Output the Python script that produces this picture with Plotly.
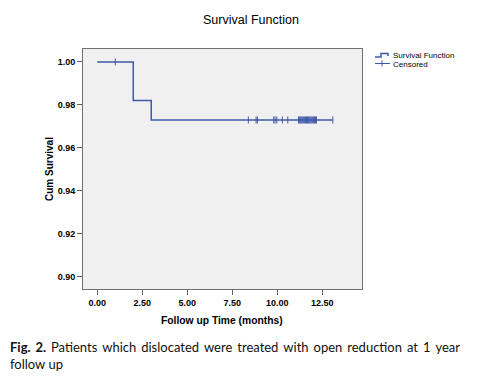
import plotly.graph_objects as go

# Data
step_times = [0.0, 2.0, 3.0, 13.08]
step_surv = [1.000, 0.982, 0.973, 0.973]

cens_times_a = [1.0]
cens_surv_a = [1.000]
cens_times_b = [8.39, 8.82, 8.89, 9.80, 9.87, 9.97, 10.28, 10.58,
                11.17, 11.22, 11.27, 11.32, 11.37, 11.42, 11.47, 11.52,
                11.57, 11.62, 11.67, 11.72, 11.77, 11.82, 11.87, 11.92,
                11.97, 12.02, 12.07, 12.12, 12.17, 13.08]
cens_surv_b = [0.973] * len(cens_times_b)

x_ticks = [0.0, 2.5, 5.0, 7.5, 10.0, 12.5]
y_ticks = [0.90, 0.92, 0.94, 0.96, 0.98, 1.00]

BLUE = "#3f58a8"
FONT = "Liberation Sans"

fig = go.Figure()
fig.add_trace(go.Scatter(x=step_times, y=step_surv, mode="lines",
                         line=dict(shape="hv", color=BLUE, width=1.5),
                         showlegend=False, hoverinfo="skip"))
fig.add_trace(go.Scatter(x=cens_times_a + cens_times_b, y=cens_surv_a + cens_surv_b,
                         mode="markers",
                         marker=dict(symbol="line-ns", size=5,
                                     line=dict(color=BLUE, width=1)),
                         showlegend=False, hoverinfo="skip"))

W, H = 485, 378
L, R, T, B = 83, 362, 49, 289
pw, ph = R - L, B - T

def px(x):
    return (x - L) / pw

def py(y):
    return (B - y) / ph

fig.update_layout(
    width=W, height=H,
    margin=dict(l=L, r=W - R, t=T, b=H - B),
    paper_bgcolor="white", plot_bgcolor="#f0f0f0",
    font=dict(family=FONT, color="#000000"),
    showlegend=False,
)
fig.update_xaxes(range=[-0.79, 14.7], tickvals=x_ticks,
                 ticktext=[f"<b>{v:.2f}</b>" for v in x_ticks],
                 ticks="outside", ticklen=5, tickcolor="#606060",
                 showgrid=False, zeroline=False,
                 showline=True, mirror=True, linecolor="#707070", linewidth=1,
                 tickfont=dict(family=FONT, size=9, color="#000"))
fig.update_yaxes(range=[0.8944, 1.006], tickvals=y_ticks,
                 ticktext=[f"<b>{v:.2f}</b>" for v in y_ticks],
                 ticks="outside", ticklen=5, tickcolor="#606060",
                 showgrid=False, zeroline=False,
                 showline=True, mirror=True, linecolor="#707070", linewidth=1,
                 tickfont=dict(family=FONT, size=9, color="#000"))

caption_line1 = "Patients which dislocated were treated with open reduction at 1 year"
caption_line2 = "follow up"
# emulate justified text of the original caption with thin spaces
line1_just = caption_line1.replace(" ", " \u2009")

ann = []
ann.append(dict(text="Survival Function", x=px(251), y=py(20), xref="paper", yref="paper",
                showarrow=False, font=dict(family=FONT, size=12.5), xanchor="center", yanchor="middle"))
ann.append(dict(text="<b>Cum Survival</b>", x=px(49), y=py(169), xref="paper", yref="paper",
                textangle=-90, showarrow=False, font=dict(family=FONT, size=10),
                xanchor="center", yanchor="middle"))
ann.append(dict(text="<b>Follow up Time (months)</b>", x=px(222), y=py(320), xref="paper", yref="paper",
                showarrow=False, font=dict(family=FONT, size=10.3), xanchor="center", yanchor="middle"))
ann.append(dict(text="Survival Function", x=px(391), y=py(55), xref="paper", yref="paper",
                showarrow=False, font=dict(family=FONT, size=8), xanchor="left", yanchor="middle"))
ann.append(dict(text="Censored", x=px(391), y=py(64), xref="paper", yref="paper",
                showarrow=False, font=dict(family=FONT, size=8), xanchor="left", yanchor="middle"))
ann.append(dict(text=f"<b>Fig. \u20092.</b> \u2009{line1_just}<br>{caption_line2}",
                x=px(8), y=py(337), xref="paper", yref="paper", align="left",
                showarrow=False, font=dict(family="Lato", size=13, color="#111111"),
                xanchor="left", yanchor="top"))
fig.update_layout(annotations=ann)

shapes = []
# legend icon: step
shapes.append(dict(type="path", xref="paper", yref="paper",
                   path=f"M {px(375)},{py(57)} L {px(381)},{py(57)} L {px(381)},{py(53.5)} L {px(388)},{py(53.5)} L {px(388)},{py(56)}",
                   line=dict(color=BLUE, width=1.5)))
# legend icon: plus
shapes.append(dict(type="line", xref="paper", yref="paper",
                   x0=px(375), x1=px(390), y0=py(63.5), y1=py(63.5), line=dict(color=BLUE, width=1)))
shapes.append(dict(type="line", xref="paper", yref="paper",
                   x0=px(382), x1=px(382), y0=py(60.5), y1=py(66.5), line=dict(color=BLUE, width=1)))
fig.update_layout(shapes=shapes)

fig.write_html("out.html", config={"displayModeBar": False},
               post_script="document.body.style.margin='0px';document.body.style.padding='0px';")
